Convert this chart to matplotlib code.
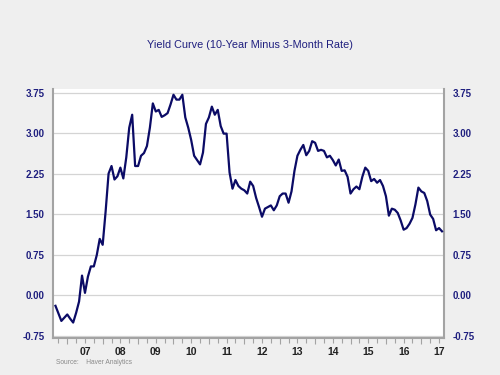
import numpy as np
import matplotlib.pyplot as plt
from matplotlib.ticker import FixedLocator

plt.rcParams["font.family"] = ["Liberation Sans", "DejaVu Sans"]

# monthly spread, Sep 2006 .. Aug 2017 (10Y minus 3M, percentage points)
start_year = 2006
start_month = 9
spread = [
    -0.20, -0.34, -0.48, -0.42, -0.36, -0.44, -0.51, -0.33, -0.12, 0.36,
    0.04, 0.34, 0.53, 0.53, 0.74, 1.04, 0.93, 1.55, 2.25, 2.39,
    2.14, 2.20, 2.36, 2.16, 2.55, 3.10, 3.34, 2.39, 2.39, 2.58,
    2.63, 2.76, 3.10, 3.55, 3.40, 3.43, 3.30, 3.33, 3.37, 3.53,
    3.71, 3.62, 3.62, 3.71, 3.29, 3.10, 2.87, 2.58, 2.50, 2.42,
    2.64, 3.17, 3.29, 3.49, 3.34, 3.43, 3.13, 2.99, 2.99, 2.27,
    1.97, 2.13, 2.02, 1.97, 1.94, 1.88, 2.10, 2.02, 1.80, 1.63,
    1.45, 1.60, 1.63, 1.66, 1.57, 1.66, 1.83, 1.88, 1.88, 1.71,
    1.92, 2.30, 2.58, 2.69, 2.78, 2.59, 2.67, 2.85, 2.82, 2.67,
    2.69, 2.67, 2.55, 2.58, 2.50, 2.40, 2.51, 2.30, 2.31, 2.19,
    1.88, 1.96, 2.01, 1.96, 2.19, 2.36, 2.30, 2.11, 2.15, 2.08,
    2.13, 2.02, 1.83, 1.47, 1.60, 1.58, 1.52, 1.38, 1.21, 1.24,
    1.32, 1.43, 1.68, 1.99, 1.92, 1.89, 1.74, 1.49, 1.41, 1.20,
    1.24, 1.18,
]
yticks = [-0.75, 0.00, 0.75, 1.50, 2.25, 3.00, 3.75]
years = list(range(2007, 2018))

title = "Yield Curve (10-Year Minus 3-Month Rate)"
source = "Source:    Haver Analytics"

NAVY_TEXT = "#1f1f7f"
LINE = "#0b0b66"
BG = "#efefef"
SPINE = "#a3a3a3"

t = start_year + (start_month - 1) / 12 + np.arange(len(spread)) / 12

fig = plt.figure(figsize=(5, 3.75), dpi=100, facecolor=BG)
ax = fig.add_axes([0.106, 0.0987, 0.782, 0.663])
ax.set_facecolor("white")

ax.plot(t, spread, color=LINE, lw=1.6, solid_joinstyle="round", zorder=3)

ax.set_xlim(2006.597, 2017.64)
ax.set_ylim(-0.796, 3.81)

ax.set_yticks(yticks)
ax.set_yticklabels([f"{v:.2f}" for v in yticks])
ax.grid(axis="y", color="#d4d4d4", lw=0.9, zorder=0)
ax.tick_params(axis="y", length=0, labelsize=7, labelcolor=NAVY_TEXT,
               left=True, right=True, labelleft=True, labelright=True, pad=6)
for lab in ax.get_yticklabels():
    lab.set_fontweight("bold")

# x axis: year boundaries as major ticks, quarters as minor, labels mid-year
quarters = [y + q / 4 for y in range(2006, 2018) for q in range(4)]
ax.xaxis.set_major_locator(FixedLocator(years))
ax.xaxis.set_minor_locator(FixedLocator(quarters))
ax.set_xticklabels([])
ax.tick_params(axis="x", which="major", length=4.5, width=0.8, color=SPINE)
ax.tick_params(axis="x", which="minor", length=3.5, width=0.8, color=SPINE)
for y in years:
    ax.text(y + 0.5, -0.035, f"{y % 100:02d}", transform=ax.get_xaxis_transform(),
            ha="center", va="top", fontsize=7.5, fontweight="bold", color="#222222")

for side in ["left", "right", "bottom"]:
    ax.spines[side].set_color(SPINE)
    ax.spines[side].set_linewidth(1.5)
ax.spines["top"].set_visible(False)

fig.text(0.5, 0.88, title, ha="center", va="center", fontsize=7.8, color=NAVY_TEXT)
fig.text(0.112, 0.032, source, ha="left", va="center", fontsize=4.8, color="#8a8a8a")

fig.savefig("out.png", dpi=100, facecolor=BG)
